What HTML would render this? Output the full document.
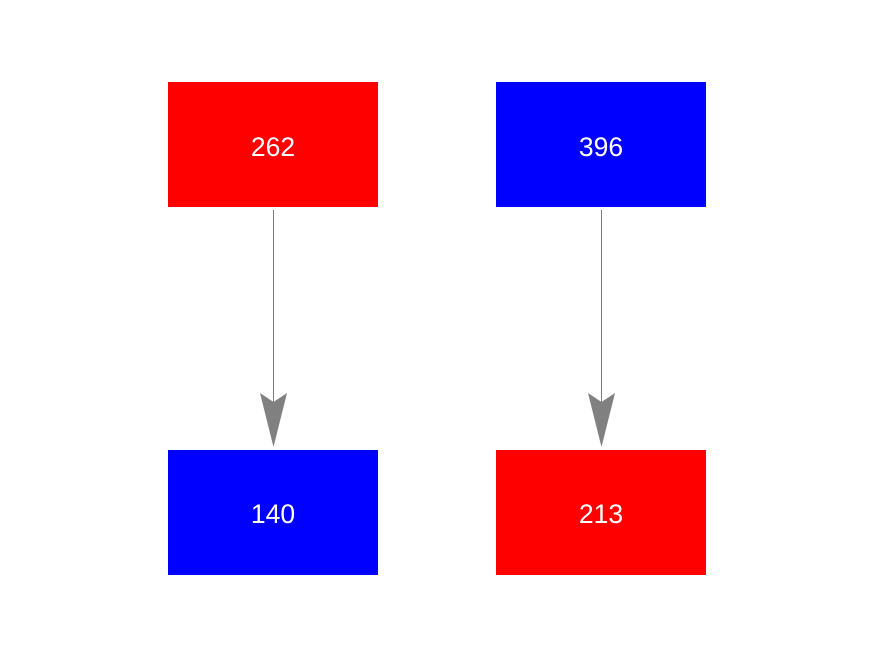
<!DOCTYPE html>
<html><head><style>
body{margin:0;width:875px;height:656px;background:#fff;overflow:hidden}
</style></head><body>
<svg width="875" height="656" xmlns="http://www.w3.org/2000/svg" font-family="Liberation Sans, sans-serif">
<rect x="168" y="82" width="210" height="125" fill="#f00"/>
<rect x="496" y="82" width="210" height="125" fill="#00f"/>
<rect x="168" y="450" width="210" height="125" fill="#00f"/>
<rect x="496" y="450" width="210" height="125" fill="#f00"/>
<g fill="#fff" font-size="26.5" text-anchor="middle">
<text x="273" y="156">262</text>
<text x="601" y="156">396</text>
<text x="273" y="523">140</text>
<text x="601" y="523">213</text>
</g>
<g stroke="#808080" stroke-width="1">
<line x1="273.5" y1="210" x2="273.5" y2="405"/>
<line x1="601.5" y1="210" x2="601.5" y2="405"/>
</g>
<g fill="#808080">
<polygon points="260,393 273.5,402 287,393 273.5,447"/>
<polygon points="588,393 601.5,402 615,393 601.5,447"/>
</g>
</svg>
</body></html>
